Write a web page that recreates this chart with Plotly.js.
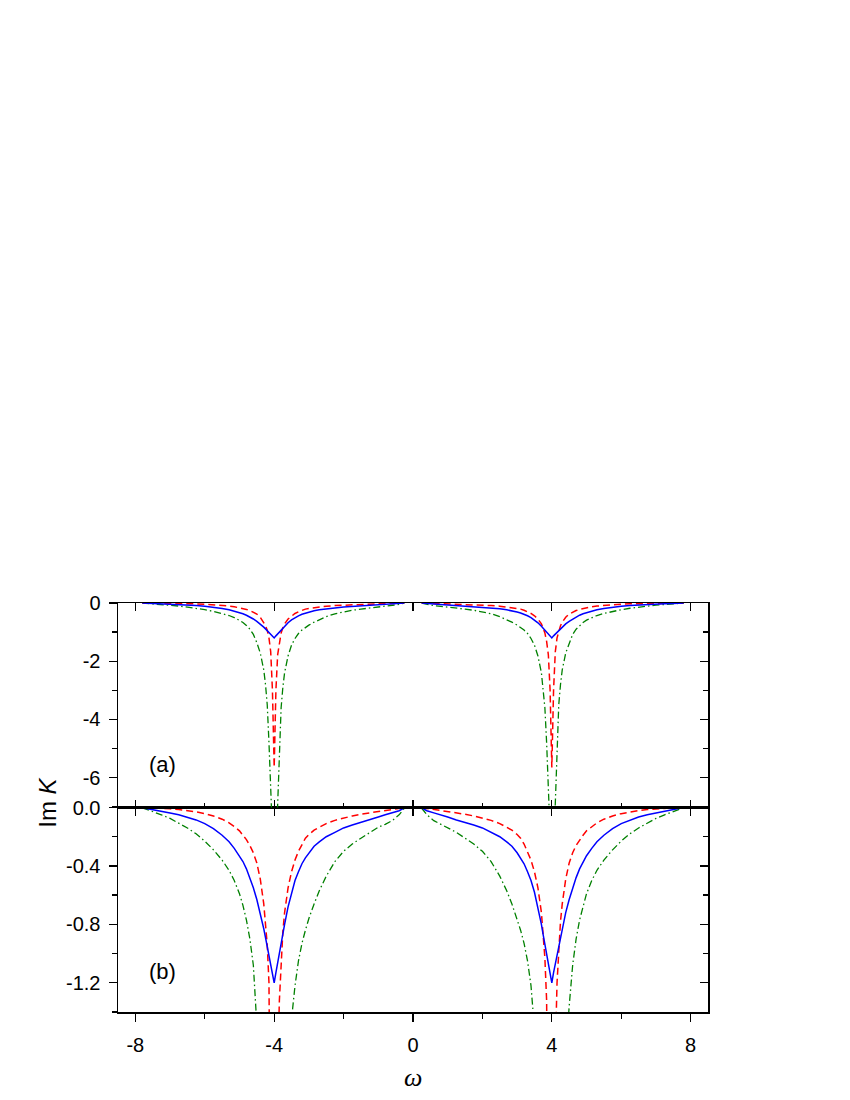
<!DOCTYPE html>
<html>
<head>
<meta charset="utf-8">
<script src="https://cdn.plot.ly/plotly-3.0.1.min.js"></script>
<style>html,body{margin:0;padding:0;background:#fff}</style>
</head>
<body>
<div id="chart" style="width:850px;height:1100px"></div>
<script>
// frequency grid (omega); 0 is a gap between the two halves
const omega = [-7.8, -7.65, -7.5, -7.25, -7.0, -6.75, -6.5, -6.25, -6.0, -5.75, -5.5, -5.3, -5.15, -5.0, -4.9, -4.8, -4.7, -4.6, -4.5, -4.4, -4.3, -4.25, -4.2, -4.15, -4.1, -4.05, -4.0, -3.95, -3.9, -3.85, -3.8, -3.75, -3.7, -3.6, -3.5, -3.4, -3.3, -3.2, -3.1, -3.0, -2.85, -2.7, -2.5, -2.25, -2.0, -1.75, -1.5, -1.25, -1.0, -0.8, -0.6, -0.4, -0.25,
  0,
  0.25, 0.4, 0.6, 0.8, 1.0, 1.25, 1.5, 1.75, 2.0, 2.25, 2.5, 2.7, 2.85, 3.0, 3.1, 3.2, 3.3, 3.4, 3.5, 3.6, 3.7, 3.75, 3.8, 3.85, 3.9, 3.95, 4.0, 4.05, 4.1, 4.15, 4.2, 4.25, 4.3, 4.4, 4.5, 4.6, 4.7, 4.8, 4.9, 5.0, 5.15, 5.3, 5.5, 5.75, 6.0, 6.25, 6.5, 6.75, 7.0, 7.25, 7.5, 7.65, 7.8];

// Im K, red dashed curve
const imKRed = [0, -0.001, -0.002, -0.005, -0.009, -0.014, -0.021, -0.03, -0.042, -0.058, -0.08, -0.105, -0.13, -0.16, -0.19, -0.22, -0.26, -0.31, -0.38, -0.49, -0.66, -0.78, -0.94, -1.2, -1.68, -3.0, -5.65, -3.0, -1.78, -1.32, -1.03, -0.85, -0.72, -0.55, -0.44, -0.36, -0.30, -0.25, -0.21, -0.185, -0.155, -0.135, -0.11, -0.088, -0.072, -0.058, -0.046, -0.036, -0.027, -0.02, -0.013, -0.006, -0.001,
  null,
  -0.001, -0.006, -0.013, -0.02, -0.027, -0.036, -0.046, -0.058, -0.072, -0.088, -0.11, -0.135, -0.155, -0.185, -0.21, -0.25, -0.30, -0.36, -0.44, -0.55, -0.72, -0.85, -1.03, -1.32, -1.78, -3.0, -5.65, -3.0, -1.68, -1.2, -0.94, -0.78, -0.66, -0.49, -0.38, -0.31, -0.26, -0.22, -0.19, -0.16, -0.13, -0.105, -0.08, -0.058, -0.042, -0.03, -0.021, -0.014, -0.009, -0.005, -0.002, -0.001, 0];

// Im K, blue solid curve
const imKBlue = [-0.001, -0.007, -0.014, -0.025, -0.037, -0.05, -0.065, -0.085, -0.11, -0.145, -0.19, -0.235, -0.28, -0.33, -0.37, -0.42, -0.48, -0.55, -0.63, -0.72, -0.83, -0.89, -0.95, -1.01, -1.07, -1.13, -1.20, -1.13, -1.06, -1.00, -0.94, -0.87, -0.80, -0.68, -0.58, -0.50, -0.44, -0.385, -0.345, -0.31, -0.265, -0.235, -0.20, -0.17, -0.14, -0.12, -0.10, -0.085, -0.065, -0.05, -0.037, -0.022, -0.003,
  null,
  -0.003, -0.022, -0.037, -0.05, -0.065, -0.085, -0.10, -0.12, -0.14, -0.17, -0.20, -0.235, -0.265, -0.31, -0.345, -0.385, -0.44, -0.50, -0.58, -0.68, -0.80, -0.87, -0.94, -1.00, -1.06, -1.13, -1.20, -1.13, -1.07, -1.01, -0.95, -0.89, -0.83, -0.72, -0.63, -0.55, -0.48, -0.42, -0.37, -0.33, -0.28, -0.235, -0.19, -0.145, -0.11, -0.085, -0.065, -0.05, -0.037, -0.025, -0.014, -0.007, -0.001];

// Im K, green dash-dot curve
const imKGreen = [-0.002, -0.014, -0.027, -0.05, -0.075, -0.105, -0.14, -0.18, -0.23, -0.29, -0.36, -0.43, -0.5, -0.59, -0.67, -0.77, -0.9, -1.08, -1.36, -1.72, -2.3, -2.8, -3.5, -4.8, -7.0, -8.6, -9.5, -8.6, -7.0, -4.8, -3.6, -2.9, -2.4, -1.82, -1.45, -1.22, -1.05, -0.93, -0.84, -0.76, -0.66, -0.57, -0.47, -0.37, -0.30, -0.25, -0.21, -0.17, -0.135, -0.115, -0.09, -0.05, -0.005,
  null,
  -0.005, -0.05, -0.09, -0.115, -0.135, -0.17, -0.21, -0.25, -0.30, -0.37, -0.47, -0.57, -0.66, -0.76, -0.84, -0.93, -1.05, -1.22, -1.45, -1.82, -2.4, -2.9, -3.6, -4.8, -7.0, -8.6, -9.5, -8.6, -7.0, -4.8, -3.5, -2.8, -2.3, -1.72, -1.36, -1.08, -0.9, -0.77, -0.67, -0.59, -0.5, -0.43, -0.36, -0.29, -0.23, -0.18, -0.14, -0.105, -0.075, -0.05, -0.027, -0.014, -0.002];

// tick values / labels
const xTicks = [-8, -4, 0, 4, 8];
const xTickText = ['-8', '-4', '0', '4', '8'];
const yTicksA = [0, -2, -4, -6];
const yTickTextA = ['0', '-2', '-4', '-6'];
const yTicksB = [0, -0.4, -0.8, -1.2];
const yTickTextB = ['0.0', '-0.4', '-0.8', '-1.2'];
const panelLabels = ['(a)', '(b)'];

const sans = 'Liberation Sans, Arial, sans-serif';
const lineRed = {color: '#ff0000', width: 1.5, dash: '7px,4px'};
const lineBlue = {color: '#0000ff', width: 1.5};
const lineGreen = {color: '#008000', width: 1.3, dash: '7px,3px,1.5px,3px'};

function tr(y, line, xa, ya) {
  return {x: omega, y: y, type: 'scatter', mode: 'lines', line: line, xaxis: xa, yaxis: ya,
          connectgaps: false, hoverinfo: 'skip', showlegend: false};
}
// empty helper traces so that the frame-only axes get their subplots
function frame(xa, ya) {
  return {x: [null], y: [null], type: 'scatter', mode: 'lines', xaxis: xa, yaxis: ya,
          hoverinfo: 'skip', showlegend: false};
}

const data = [
  tr(imKGreen, lineGreen, 'x2', 'y'),
  tr(imKRed, lineRed, 'x2', 'y'),
  tr(imKBlue, lineBlue, 'x2', 'y'),
  tr(imKGreen, lineGreen, 'x', 'y2'),
  tr(imKRed, lineRed, 'x', 'y2'),
  tr(imKBlue, lineBlue, 'x', 'y2'),
  frame('x3', 'y'), frame('x4', 'y2'), frame('x2', 'y3'), frame('x', 'y4')
];

const XR = [-8.5, 8.5];
const YRA = [-7.03, 0];
const YRB = [-1.4, 0];
const axCommon = {showgrid: false, zeroline: false, showline: true, linecolor: '#000', linewidth: 1.5,
                  tickcolor: '#000', tickwidth: 1.3, fixedrange: true};
const minorX = (dir) => ({tickmode: 'linear', tick0: 0, dtick: 2, ticks: dir, ticklen: 5, tickcolor: '#000', tickwidth: 1.3, showgrid: false});

const layout = {
  width: 850, height: 1100,
  margin: {l: 118, r: 142, t: 603, b: 88},
  paper_bgcolor: '#fff', plot_bgcolor: 'rgba(0,0,0,0)',
  showlegend: false,
  font: {family: sans, size: 20, color: '#000'},
  // bottom axis (panel b)
  xaxis: Object.assign({}, axCommon, {
    domain: [0, 1], anchor: 'y2', range: XR, tickmode: 'array', tickvals: xTicks, ticktext: xTickText,
    ticks: 'outside', ticklen: 8, ticklabelstandoff: 6,
    minor: minorX('outside'),
    tickfont: {family: sans, size: 20}
  }),
  // bottom edge of panel a
  xaxis2: Object.assign({}, axCommon, {
    domain: [0, 1], anchor: 'y', range: XR, tickmode: 'array', tickvals: xTicks,
    ticks: 'inside', ticklen: 8, showticklabels: false,
    minor: minorX('inside')
  }),
  // top edge of panel a
  xaxis3: Object.assign({}, axCommon, {
    overlaying: 'x2', anchor: 'y', side: 'top', range: XR, tickmode: 'array', tickvals: xTicks,
    ticks: 'inside', ticklen: 8, showticklabels: false
  }),
  // top edge of panel b
  xaxis4: Object.assign({}, axCommon, {
    overlaying: 'x', anchor: 'y2', side: 'top', range: XR, tickmode: 'array', tickvals: xTicks,
    ticks: 'inside', ticklen: 8, showticklabels: false
  }),
  // panel a left
  yaxis: Object.assign({}, axCommon, {
    domain: [0.5, 1], anchor: 'x2', range: YRA, tickmode: 'array', tickvals: yTicksA, ticktext: yTickTextA,
    ticks: 'outside', ticklen: 8, ticklabelstandoff: 4,
    minor: {tickmode: 'linear', tick0: 0, dtick: 1, ticks: 'outside', ticklen: 5, tickcolor: '#000', tickwidth: 1.3, showgrid: false},
    tickfont: {family: sans, size: 20}
  }),
  // panel b left
  yaxis2: Object.assign({}, axCommon, {
    domain: [0, 0.5], anchor: 'x', range: YRB, tickmode: 'array', tickvals: yTicksB, ticktext: yTickTextB,
    ticks: 'outside', ticklen: 8, ticklabelstandoff: 4,
    minor: {tickmode: 'linear', tick0: 0, dtick: 0.2, ticks: 'outside', ticklen: 5, tickcolor: '#000', tickwidth: 1.3, showgrid: false},
    tickfont: {family: sans, size: 20}
  }),
  // panel a right
  yaxis3: Object.assign({}, axCommon, {
    overlaying: 'y', anchor: 'x2', side: 'right', range: YRA, tickmode: 'array', tickvals: yTicksA,
    ticks: 'inside', ticklen: 8, showticklabels: false,
    minor: {tickmode: 'linear', tick0: 0, dtick: 1, ticks: 'inside', ticklen: 5, tickcolor: '#000', tickwidth: 1.3, showgrid: false}
  }),
  // panel b right
  yaxis4: Object.assign({}, axCommon, {
    overlaying: 'y2', anchor: 'x', side: 'right', range: YRB, tickmode: 'array', tickvals: yTicksB,
    ticks: 'inside', ticklen: 8, showticklabels: false,
    minor: {tickmode: 'linear', tick0: 0, dtick: 0.2, ticks: 'inside', ticklen: 5, tickcolor: '#000', tickwidth: 1.3, showgrid: false}
  }),
  annotations: [
    {text: panelLabels[0], xref: 'x2', yref: 'y', x: -7.22, y: -5.55, showarrow: false,
     xanchor: 'center', yanchor: 'middle', font: {family: sans, size: 22, color: '#000'}},
    {text: panelLabels[1], xref: 'x', yref: 'y2', x: -7.22, y: -1.126, showarrow: false,
     xanchor: 'center', yanchor: 'middle', font: {family: sans, size: 22, color: '#000'}},
    {text: 'Im <i>K</i>', xref: 'paper', yref: 'paper', x: -0.12, y: 0.512, textangle: -90, showarrow: false,
     xanchor: 'center', yanchor: 'middle', font: {family: sans, size: 24, color: '#000'}},
    {text: '<i>ω</i>', xref: 'paper', yref: 'paper', x: 0.5, y: -0.16, showarrow: false,
     xanchor: 'center', yanchor: 'middle', font: {family: 'Liberation Serif, Times New Roman, serif', size: 26, color: '#000'}}
  ]
};

Plotly.newPlot('chart', data, layout, {staticPlot: true, displayModeBar: false});
</script>
</body>
</html>
